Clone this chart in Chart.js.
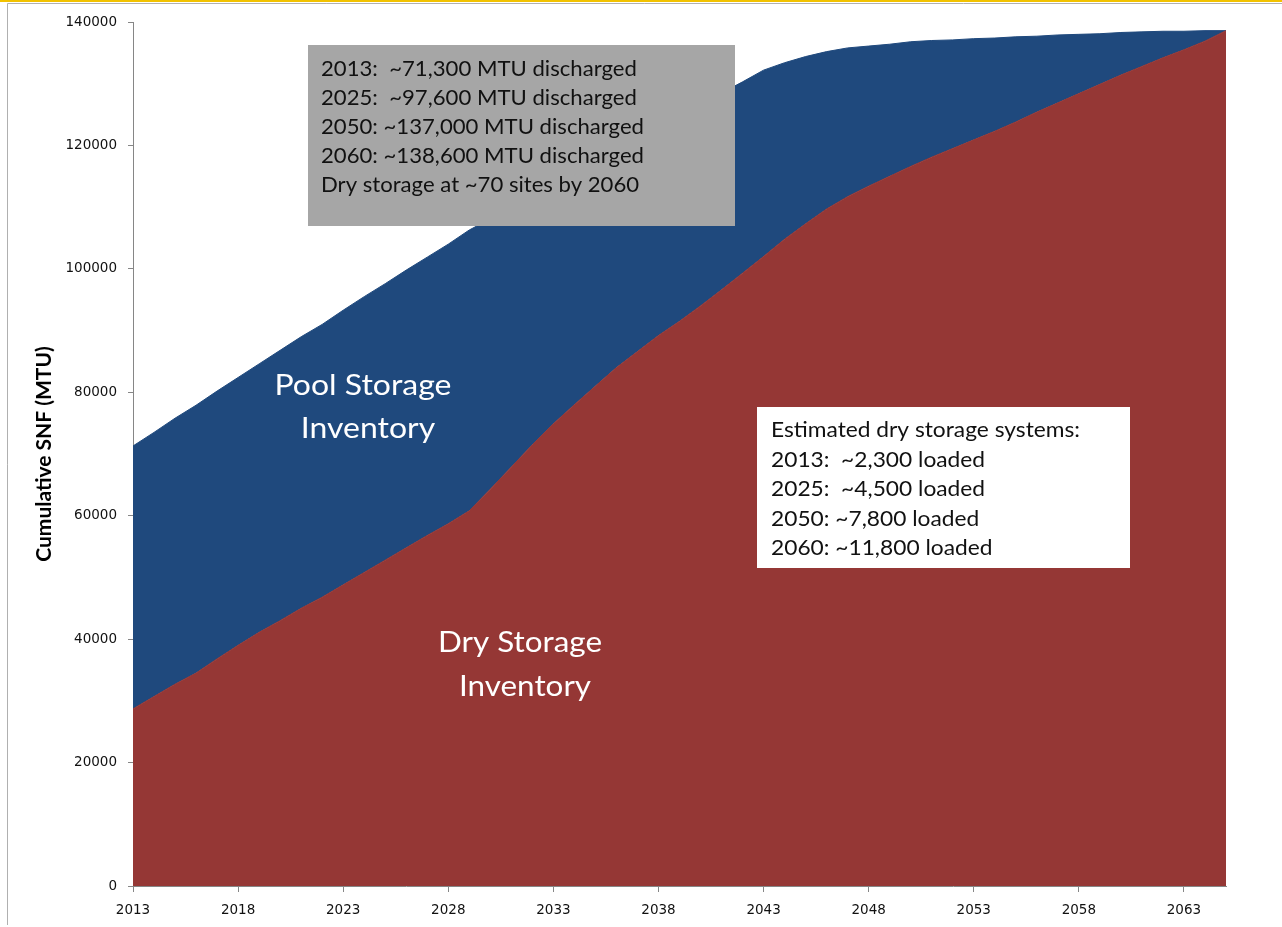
<!DOCTYPE html>
<html>
<head>
<meta charset="utf-8">
<title>Cumulative SNF (MTU)</title>
<script src="https://cdn.jsdelivr.net/npm/chart.js@4.4.1/dist/chart.umd.min.js"></script>
<style>
  html, body { margin: 0; padding: 0; background: #fff; }
  #wrap { width: 1282px; height: 927px; }
</style>
</head>
<body>
<div id="wrap"><canvas id="snf" width="1282" height="927"></canvas></div>
<script>
// Years on the x axis
const years = [
  2013, 2014, 2015, 2016, 2017, 2018, 2019, 2020, 2021, 2022,
  2023, 2024, 2025, 2026, 2027, 2028, 2029, 2030, 2031, 2032,
  2033, 2034, 2035, 2036, 2037, 2038, 2039, 2040, 2041, 2042,
  2043, 2044, 2045, 2046, 2047, 2048, 2049, 2050, 2051, 2052,
  2053, 2054, 2055, 2056, 2057, 2058, 2059, 2060, 2061, 2062,
  2063, 2064, 2065
];

// Cumulative discharged SNF (top of the pool area), MTU
const totalDischarged = [
  71300, 73500, 75800, 77900, 80200, 82400, 84600, 86800, 89000, 91000,
  93300, 95500, 97600, 99800, 101900, 104000, 106300, 108100, 110000, 111800,
  113700, 115500, 117400, 119200, 121100, 122900, 124800, 126600, 128500, 130300,
  132200, 133400, 134400, 135200, 135800, 136100, 136400, 136800, 137000, 137100,
  137300, 137400, 137600, 137700, 137900, 138000, 138100, 138300, 138400, 138500,
  138500, 138600, 138600
];

// Dry storage inventory, MTU
const dryStorage = [
  28700, 30700, 32700, 34500, 36800, 39000, 41100, 43000, 45000, 46800,
  48800, 50800, 52800, 54800, 56800, 58700, 60800, 64300, 67900, 71500,
  74900, 78000, 81000, 84000, 86600, 89200, 91500, 94000, 96600, 99300,
  102000, 104800, 107300, 109700, 111700, 113400, 115000, 116600, 118100, 119500,
  120900, 122300, 123800, 125400, 126900, 128400, 129900, 131400, 132800, 134200,
  135500, 136900, 138600
];

const xTickYears = [2013, 2018, 2023, 2028, 2033, 2038, 2043, 2048, 2053, 2058, 2063];
const yTickValues = [0, 20000, 40000, 60000, 80000, 100000, 120000, 140000];

const summaryLines = [
  '2013:  ~71,300 MTU discharged',
  '2025:  ~97,600 MTU discharged',
  '2050: ~137,000 MTU discharged',
  '2060: ~138,600 MTU discharged',
  'Dry storage at ~70 sites by 2060'
];
const caskLines = [
  'Estimated dry storage systems:',
  '2013:  ~2,300 loaded',
  '2025:  ~4,500 loaded',
  '2050: ~7,800 loaded',
  '2060: ~11,800 loaded'
];

const BLUE = '#1F497D';
const RED = '#953735';
const AXIS = '#868686';

// draw a block of lines squeezed horizontally so the widest line hits the given width
function drawBlock(ctx, lines, x, firstBaseline, step, refWidth, font, color, align) {
  ctx.save();
  ctx.font = font;
  ctx.fillStyle = color;
  ctx.textBaseline = 'alphabetic';
  ctx.textAlign = align || 'left';
  const widest = Math.max(...lines.map(l => ctx.measureText(l).width));
  const sx = refWidth / widest;
  lines.forEach((line, i) => {
    const lx = Array.isArray(x) ? x[i] : x;
    ctx.save();
    ctx.translate(lx, firstBaseline + i * step);
    ctx.scale(sx, 1);
    ctx.fillText(line, 0, 0);
    ctx.restore();
  });
  ctx.restore();
}

const overlay = {
  id: 'overlay',
  beforeDraw(chart) {
    const { ctx, width, height } = chart;
    ctx.save();
    ctx.fillStyle = '#fff';
    ctx.fillRect(0, 0, width, height);
    // yellow rule and grey frame
    ctx.fillStyle = '#F2C200';
    ctx.fillRect(0, 0, width, 2);
    ctx.strokeStyle = '#B0B0B0';
    ctx.lineWidth = 1;
    ctx.beginPath();
    ctx.moveTo(width, 3.5);
    ctx.lineTo(7.5, 3.5);
    ctx.lineTo(7.5, 925);
    ctx.stroke();
    ctx.restore();
  },
  afterDraw(chart) {
    const { ctx } = chart;
    // area labels
    drawBlock(ctx, ['Pool Storage', 'Inventory'], [363, 368], 395, 43, 177,
      '29px Lato', '#fff', 'center');
    drawBlock(ctx, ['Dry Storage', 'Inventory'], [520, 525], 652, 44, 164,
      '29px Lato', '#fff', 'center');

    // summary boxes
    ctx.save();
    ctx.fillStyle = '#A6A6A6';
    ctx.fillRect(308, 45, 427, 181);
    ctx.fillStyle = '#fff';
    ctx.fillRect(757, 407, 373, 161);
    ctx.restore();
    drawBlock(ctx, summaryLines, 321, 76, 29, 323, '21px Lato', '#111');
    drawBlock(ctx, caskLines, 771, 437, 29.5, 309, '21px Lato', '#111');
  }
};

new Chart(document.getElementById('snf'), {
  type: 'line',
  data: {
    datasets: [
      {
        label: 'Dry Storage Inventory',
        data: years.map((yr, i) => ({ x: yr, y: dryStorage[i] })),
        backgroundColor: RED,
        borderColor: RED,
        borderWidth: 1,
        pointRadius: 0,
        fill: 'origin'
      },
      {
        label: 'Pool Storage Inventory',
        data: years.map((yr, i) => ({ x: yr, y: totalDischarged[i] })),
        backgroundColor: BLUE,
        borderColor: BLUE,
        borderWidth: 1,
        pointRadius: 0,
        fill: '-1'
      }
    ]
  },
  options: {
    responsive: false,
    animation: false,
    devicePixelRatio: 1,
    layout: { padding: { top: 22, right: 56, bottom: 0, left: 0 } },
    plugins: { legend: { display: false }, tooltip: { enabled: false } },
    scales: {
      x: {
        type: 'linear',
        min: years[0],
        max: years[years.length - 1],
        afterBuildTicks: s => { s.ticks = xTickYears.map(v => ({ value: v })); },
        afterFit: s => { s.height = 41; },
        grid: { drawOnChartArea: false, tickLength: 6, color: AXIS },
        border: { color: AXIS },
        ticks: {
          font: { family: 'DejaVu Sans', size: 13.5 },
          color: '#111',
          padding: 10,
          maxRotation: 0,
          callback: v => String(v)
        }
      },
      y: {
        min: 0,
        max: 140000,
        afterBuildTicks: s => { s.ticks = yTickValues.map(v => ({ value: v })); },
        afterFit: s => { s.width = 133; },
        grid: { drawOnChartArea: false, tickLength: 5, color: AXIS },
        border: { color: AXIS },
        ticks: {
          font: { family: 'DejaVu Sans', size: 13.5 },
          color: '#111',
          padding: 11,
          callback: v => String(v)
        },
        title: {
          display: true,
          text: 'Cumulative SNF (MTU)',
          font: { family: 'Lato', size: 21, weight: 'bold' },
          color: '#000',
          padding: { top: 32, bottom: 0 }
        }
      }
    }
  },
  plugins: [overlay]
});
</script>
</body>
</html>
